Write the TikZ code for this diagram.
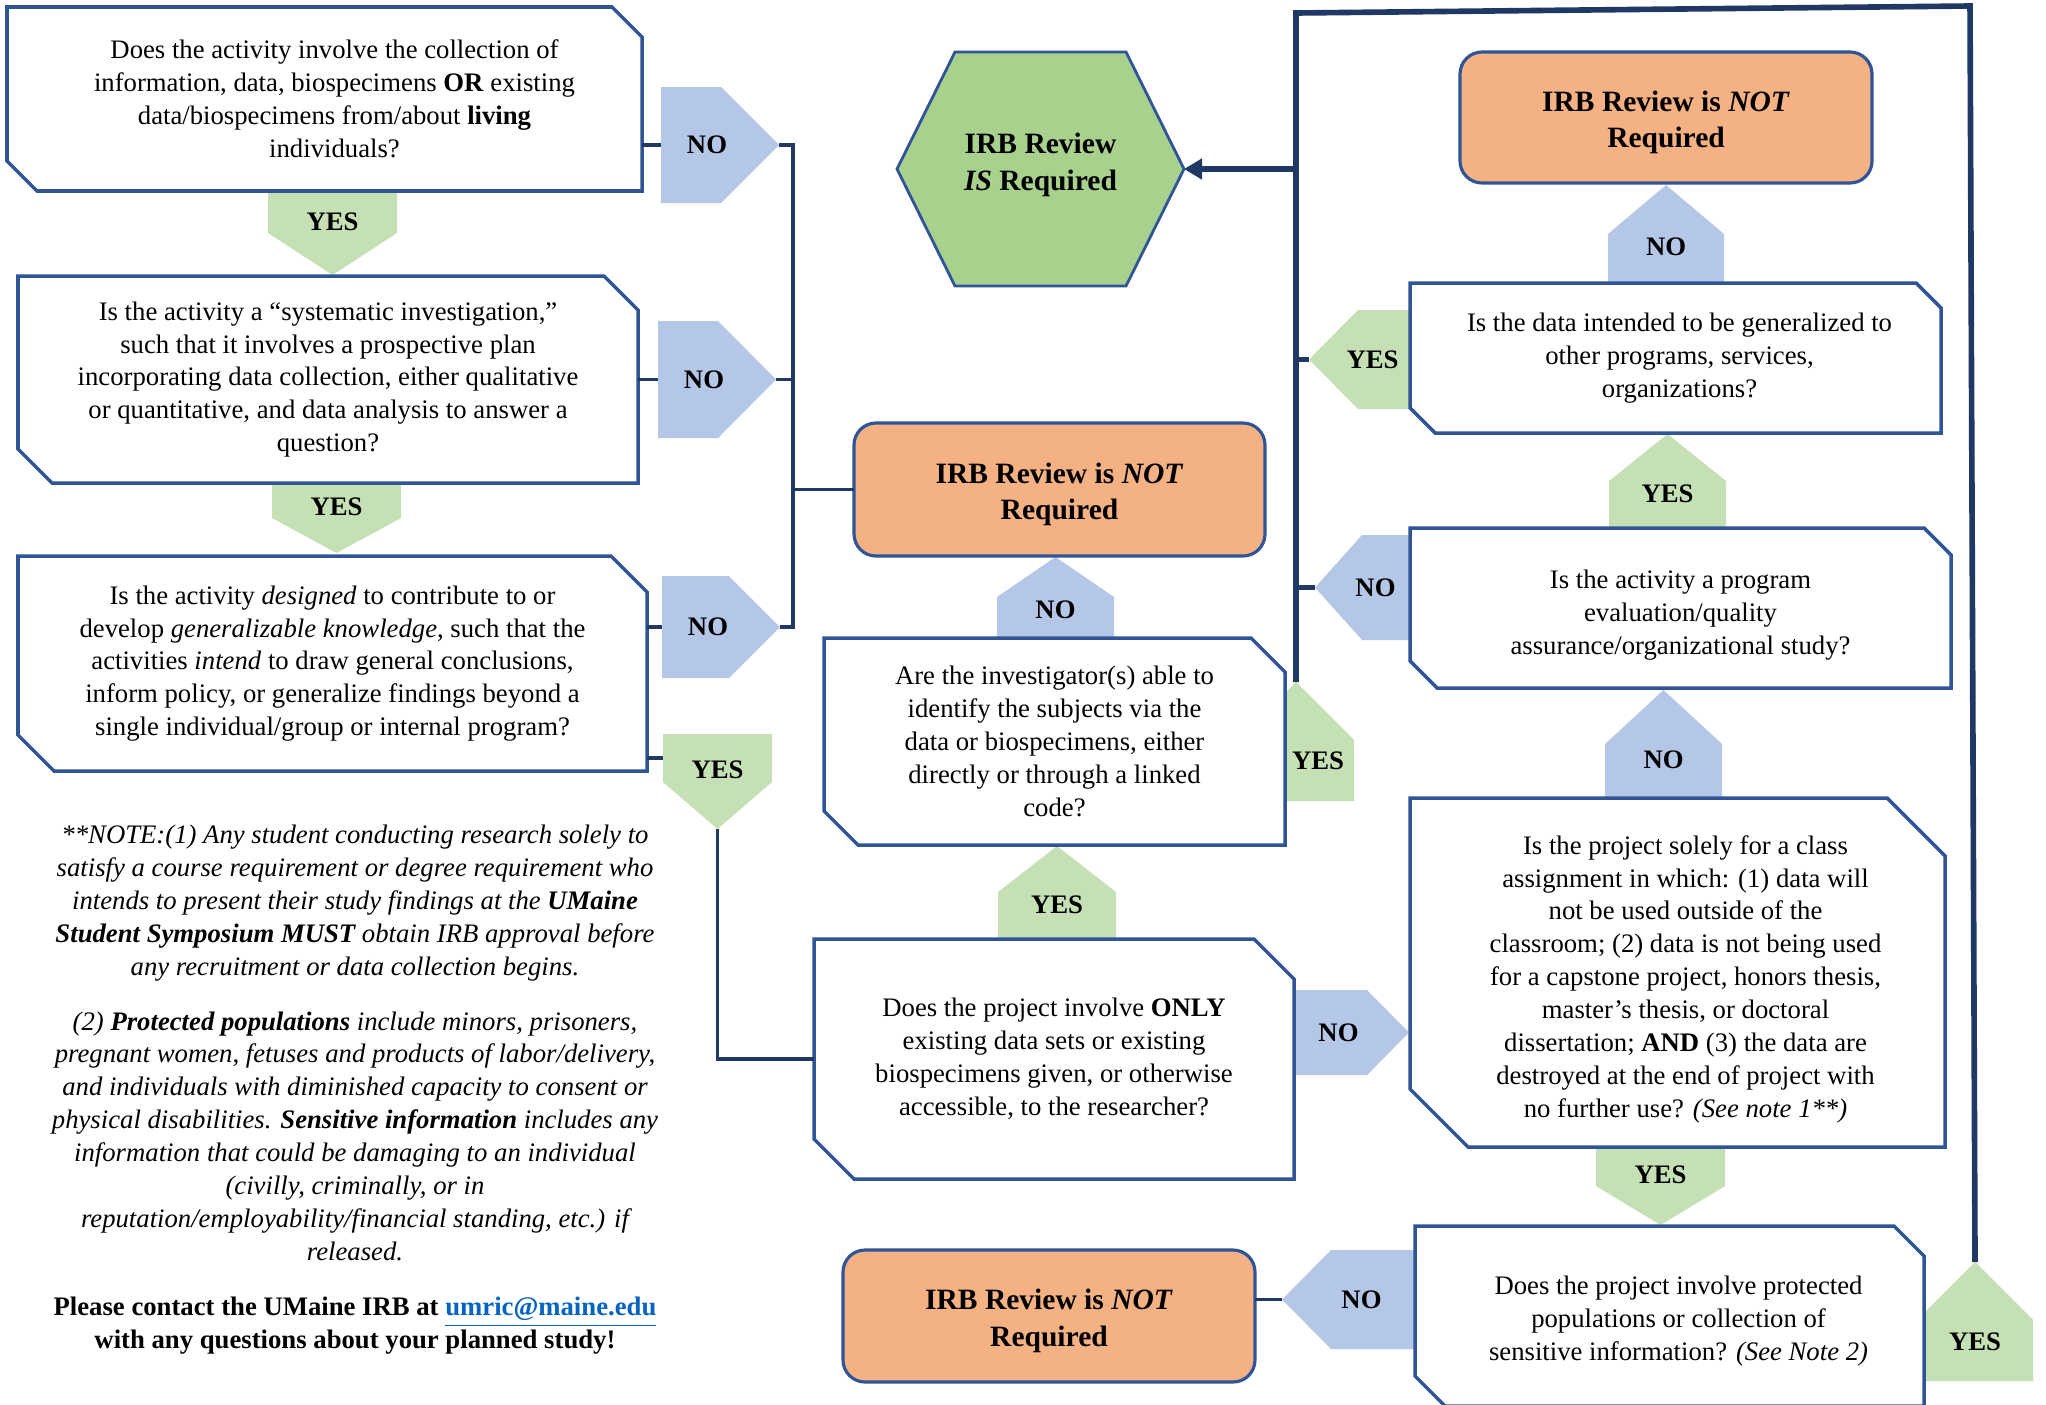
\documentclass[tikz,border=0pt]{standalone}
\usepackage{fontspec}
\setmainfont{Liberation Serif}
\usepackage{tikz}
\usetikzlibrary{arrows.meta,calc}

\definecolor{edgeblue}{HTML}{2F5597}
\definecolor{navy}{HTML}{1F3864}
\definecolor{yesfill}{HTML}{C5E0B4}
\definecolor{nofill}{HTML}{B4C7E7}
\definecolor{orangefill}{HTML}{F4B183}
\definecolor{hexfill}{HTML}{A9D18E}
\definecolor{linkblue}{HTML}{0563C1}

\newcommand{\qfont}{\fontsize{7.6}{9.36}\selectfont}
\newcommand{\rfont}{\fontsize{8.4}{10.4}\selectfont\bfseries}

\pgfdeclarelayer{back}
\pgfsetlayers{back,main}

% question box outline: corners snipped at top right and bottom left
\newcommand{\snipbox}[2]{%
  \filldraw[qline] (#1.north west) -- ([xshift=-#2]#1.north east) -- ([yshift=-#2]#1.north east)
    -- (#1.south east) -- ([xshift=#2]#1.south west) -- ([yshift=#2]#1.south west) -- cycle;}
% yes/no tags (pentagons pointing right, left, up, down)
\newcommand{\homeR}[3]{\fill[#3] (#1.north west) -- ([xshift=-#2]#1.north east) -- (#1.east) -- ([xshift=-#2]#1.south east) -- (#1.south west) -- cycle;}
\newcommand{\homeL}[3]{\fill[#3] (#1.north east) -- ([xshift=#2]#1.north west) -- (#1.west) -- ([xshift=#2]#1.south west) -- (#1.south east) -- cycle;}
\newcommand{\homeU}[3]{\fill[#3] (#1.south west) -- ([yshift=-#2]#1.north west) -- (#1.north) -- ([yshift=-#2]#1.north east) -- (#1.south east) -- cycle;}
\newcommand{\homeD}[3]{\fill[#3] (#1.north west) -- ([yshift=#2]#1.south west) -- (#1.south) -- ([yshift=#2]#1.south east) -- (#1.north east) -- cycle;}

\begin{document}
\begin{tikzpicture}[
    x=0.1mm, y=-0.1mm,
    qline/.style={draw=edgeblue, line width=1pt, fill=white, line join=miter},
    qtext/.style={align=center, inner sep=0pt, outer sep=0pt, font=\qfont},
    lower/.style={execute at end node={\rule{0pt}{#1}}},
    right/.style={execute at begin node={\hspace{#1}}},
    result/.style={draw=edgeblue, line width=0.9pt, fill=orangefill, rounded corners=2.2mm,
      align=center, inner sep=0pt, outer sep=0pt, font=\rfont, lower=19pt},
    hexline/.style={draw=edgeblue, line width=0.8pt, fill=hexfill},
    tag/.style={inner sep=0pt, outer sep=0pt, font=\qfont\bfseries},
    tagR/.style={tag, execute at end node={\hspace{2.6mm}}},
    tagL/.style={tag, execute at begin node={\hspace{2.6mm}}},
    tagU/.style={tag, text height=4.2mm, text depth=0pt},
    tagD/.style={tag, text height=1.8mm, text depth=2.4mm},
    yesarr/.style={fill=yesfill},
    noarr/.style={fill=nofill},
    conn/.style={draw=navy, line width=1pt},
    bus/.style={draw=navy, line width=1.6pt},
    note/.style={align=center, inner sep=0pt, outer sep=0pt, font=\qfont\itshape}
  ]
  \useasboundingbox (0,0) rectangle (2046,1404);

  % left column questions
  \node[qtext, right=2mm, minimum width=63.5mm, minimum height=18.4mm] (living) at (324.5,99)
    {Does the activity involve the collection of\\ information, data, biospecimens \textbf{OR} existing\\ data/biospecimens from/about \textbf{living}\\ individuals?};
  \node[qtext, minimum width=62mm, minimum height=20.7mm] (system) at (328,379.5)
    {Is the activity a “systematic investigation,”\\ such that it involves a prospective plan\\ incorporating data collection, either qualitative\\ or quantitative, and data analysis to answer a\\ question?};
  \node[qtext, minimum width=62.9mm, minimum height=21.5mm] (general) at (332.5,663.5)
    {Is the activity \textit{designed} to contribute to or\\ develop \textit{generalizable knowledge}, such that the\\ activities \textit{intend} to draw general conclusions,\\ inform policy, or generalize findings beyond a\\ single individual/group or internal program?};

  % middle column
  \node[qtext, minimum width=46.1mm, minimum height=20.7mm] (identify) at (1054.5,741.5)
    {Are the investigator(s) able to\\ identify the subjects via the\\ data or biospecimens, either\\ directly or through a linked\\ code?};
  \node[qtext, minimum width=48mm, minimum height=24mm] (existing) at (1054,1059)
    {Does the project involve \textbf{ONLY}\\ existing data sets or existing\\ biospecimens given, or otherwise\\ accessible, to the researcher?};

  % right column
  \node[qtext, right=0.8mm, minimum width=53.1mm, minimum height=15mm] (spread) at (1675.5,358)
    {Is the data intended to be generalized to\\ other programs, services,\\ organizations?};
  \node[qtext, lower=27.9pt, minimum width=54.1mm, minimum height=16mm] (progeval) at (1680.5,608)
    {Is the activity a program\\ evaluation/quality\\ assurance/organizational study?};
  \node[qtext, lower=84pt, right=1.6mm, minimum width=53.5mm, minimum height=34.9mm] (classwork) at (1677.5,972.5)
    {Is the project solely for a class\\ assignment in which: (1) data will\\ not be used outside of the\\ classroom; (2) data is not being used\\ for a capstone project, honors thesis,\\ master’s thesis, or doctoral\\ dissertation; \textbf{AND} (3) the data are\\ destroyed at the end of project with\\ no further use? \textit{(See note 1**)}};
  \node[qtext, lower=26.8pt, right=1.8mm, minimum width=50.9mm, minimum height=18mm] (protect) at (1669.5,1316)
    {Does the project involve protected\\ populations or collection of\\ sensitive information? \textit{(See Note 2)}};

  % outcomes
  \node[qtext, font=\rfont, execute at end node={\rule[-4.1pt]{0pt}{4.1pt}},
    minimum width=28.7mm, minimum height=23.4mm] (irbyes) at (1040.5,169)
    {IRB Review\\ \textit{IS} Required};
  \node[result, minimum width=41.1mm, minimum height=13.3mm] (notreqA) at (1059.5,489.5)
    {IRB Review is \textit{NOT}\\ Required};
  \node[result, minimum width=41.2mm, minimum height=13.1mm] (notreqB) at (1666,117.5)
    {IRB Review is \textit{NOT}\\ Required};
  \node[result, minimum width=41.2mm, minimum height=13.2mm] (notreqC) at (1049,1316)
    {IRB Review is \textit{NOT}\\ Required};

  % yes / no tags
  \node[tagR, minimum width=11.8mm, minimum height=11.6mm] (livingno) at (720,145) {NO};
  \node[tagD, minimum width=12.9mm, minimum height=8.4mm] (livingyes) at (332.5,233) {YES};
  \node[tagR, minimum width=11.8mm, minimum height=11.7mm] (systemno) at (717,379.5) {NO};
  \node[tagD, minimum width=12.9mm, minimum height=7mm] (systemyes) at (336.5,518) {YES};
  \node[tagR, minimum width=11.8mm, minimum height=10.2mm] (generalno) at (721,627) {NO};
  \node[tagD, minimum width=10.9mm, minimum height=9.5mm] (generalyes) at (717.5,781.5) {YES};
  \node[tagU, minimum width=11.7mm, minimum height=8.1mm] (identifyno) at (1055.5,597.5) {NO};
  \node[tagU, text height=5.5mm, execute at begin node={\hspace{4.4mm}}, minimum width=11.6mm, minimum height=11.9mm] (identifyyes) at (1296,741.5) {YES};
  \node[tagU, minimum width=11.8mm, minimum height=9.3mm] (existingyes) at (1057,892.5) {YES};
  \node[tagR, minimum width=11.5mm, minimum height=8.5mm] (existingno) at (1351.5,1032.5) {NO};
  \node[tagU, minimum width=11.6mm, minimum height=9.8mm] (spreadno) at (1666,234) {NO};
  \node[tagL, minimum width=10.1mm, minimum height=9.9mm] (spreadyes) at (1359.5,359.5) {YES};
  \node[tagU, minimum width=11.7mm, minimum height=9.4mm] (progyes) at (1667.5,481) {YES};
  \node[tagL, minimum width=9.5mm, minimum height=10.5mm] (progno) at (1362.5,587.5) {NO};
  \node[tagU, text height=4.8mm, minimum width=11.7mm, minimum height=10.8mm] (classno) at (1663.5,744) {NO};
  \node[tagD, minimum width=12.9mm, minimum height=7.8mm] (classyes) at (1660.5,1186) {YES};
  \node[tagL, minimum width=13.3mm, minimum height=9.9mm] (protectno) at (1348.5,1299.5) {NO};
  \node[tagU, text height=5.8mm, minimum width=11.6mm, minimum height=11.9mm] (protectyes) at (1975,1321.5) {YES};

  % notes
  \node[note, anchor=north] (notes) at (355,825)
    {**NOTE:(1) Any student conducting research solely to\\
     satisfy a course requirement or degree requirement who\\
     intends to present their study findings at the \textbf{UMaine}\\
     \textbf{Student Symposium MUST} obtain IRB approval before\\
     any recruitment or data collection begins.\\[2.2mm]
     (2) \textbf{Protected populations} include minors, prisoners,\\
     pregnant women, fetuses and products of labor/delivery,\\
     and individuals with diminished capacity to consent or\\
     physical disabilities. \textbf{Sensitive information} includes any\\
     information that could be damaging to an individual\\
     (civilly, criminally, or in\\
     reputation/employability/financial standing, etc.) if\\
     released.\\[2.2mm]
     \textup{\textbf{Please contact the UMaine IRB at \textcolor{linkblue}{\underline{umric@maine.edu}}}}\\
     \textup{\textbf{with any questions about your planned study!}}};

  % shapes behind the texts
  \begin{pgfonlayer}{back}
    \fill[white] (0,0) rectangle (2046,1404);
    \homeU{identifyyes}{5.8mm}{yesarr}
    \homeU{protectyes}{5.8mm}{yesarr}
    \homeR{livingno}{5.8mm}{noarr}
    \homeD{livingyes}{4.2mm}{yesarr}
    \homeR{systemno}{5.8mm}{noarr}
    \homeD{systemyes}{3.5mm}{yesarr}
    \homeR{generalno}{5.1mm}{noarr}
    \homeD{generalyes}{4.7mm}{yesarr}
    \homeU{identifyno}{4mm}{noarr}
    \homeU{existingyes}{4.6mm}{yesarr}
    \homeR{existingno}{4.2mm}{noarr}
    \homeU{spreadno}{4.9mm}{noarr}
    \homeL{spreadyes}{4.9mm}{yesarr}
    \homeU{progyes}{4.7mm}{yesarr}
    \homeL{progno}{4.7mm}{noarr}
    \homeU{classno}{5.4mm}{noarr}
    \homeD{classyes}{3.9mm}{yesarr}
    \homeL{protectno}{4.9mm}{noarr}
    \snipbox{living}{3mm}
    \snipbox{system}{3.4mm}
    \snipbox{general}{3.6mm}
    \snipbox{identify}{3.4mm}
    \snipbox{existing}{4mm}
    \snipbox{spread}{2.5mm}
    \snipbox{progeval}{2.7mm}
    \snipbox{classwork}{5.8mm}
    \snipbox{protect}{3mm}
    \filldraw[hexline] (irbyes.west) -- ([xshift=5.8mm]irbyes.north west) -- ([xshift=-5.8mm]irbyes.north east)
      -- (irbyes.east) -- ([xshift=-5.8mm]irbyes.south east) -- ([xshift=5.8mm]irbyes.south west) -- cycle;
  \end{pgfonlayer}

  % connectors, left side
  \coordinate (lbus) at (793,145);
  \coordinate (gyes) at ($(generalyes.north west)!.25!(generalyes.south west)$);
  \draw[conn] (living.east |- livingno.west) -- (livingno.west);
  \draw[conn] (system.east |- systemno.west) -- (systemno.west);
  \draw[conn] (general.east |- generalno.west) -- (generalno.west);
  \draw[conn] (livingno.east) -- (livingno.east -| lbus) -- (generalno.east -| lbus) -- (generalno.east);
  \draw[conn] (systemno.east) -- (systemno.east -| lbus);
  \draw[conn] (notreqA.west -| lbus) -- (notreqA.west);
  \draw[conn] (general.east |- gyes) -- (gyes);
  \draw[conn] (generalyes.south) |- (existing.west);
  \draw[conn] (notreqC.east |- protectno.west) -- (protectno.west);

  % connectors, right side
  \coordinate (rtop) at (1295,13);
  \coordinate (rcorner) at (1970,6);
  \draw[bus] (identifyyes.north) -- (identifyyes.north |- rtop) -- (rcorner) -- (protectyes.north);
  \draw[bus] (spreadyes.west) -- (spreadyes.west -| identifyyes.north);
  \draw[bus] (progno.west) -- (progno.west -| identifyyes.north);
  \draw[bus, -{Triangle[length=1.8mm, width=2mm]}] (irbyes.east -| identifyyes.north) -- (irbyes.east);
\end{tikzpicture}
\end{document}
